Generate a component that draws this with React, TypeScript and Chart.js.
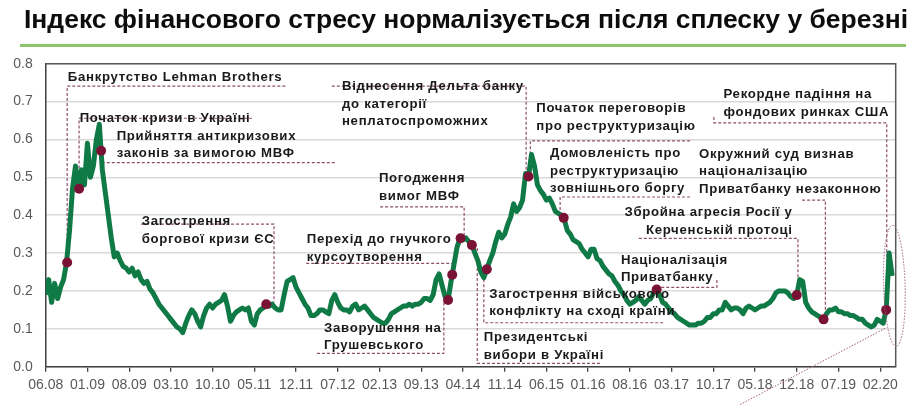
import React, { useEffect, useRef } from 'react';
import { Chart, registerables } from 'chart.js';

Chart.register(...registerables);

const TITLE = 'Індекс фінансового стресу нормалізується після сплеску у березні';

// x axis: months since 06.2008, tick every 7 months
const xTickLabels = ['06.08', '01.09', '08.09', '03.10', '10.10', '05.11', '12.11', '07.12', '02.13', '09.13', '04.14', '11.14', '06.15', '01.16', '08.16', '03.17', '10.17', '05.18', '12.18', '07.19', '02.20'];
const xTickMonths = [0, 7, 14, 21, 28, 35, 42, 49, 56, 63, 70, 77, 84, 91, 98, 105, 112, 119, 126, 133, 140];
const X_MAX = 142.6;

// financial stress index, half-month observations starting 06.2008
const SERIES_STEP = 0.5;
const stressIndex = [
  0.19, 0.23, 0.17, 0.22, 0.18, 0.21, 0.23, 0.275, 0.36, 0.47,
  0.53, 0.47, 0.52, 0.48, 0.59, 0.50, 0.53, 0.60, 0.64, 0.52,
  0.46, 0.40, 0.34, 0.29, 0.30, 0.28, 0.265, 0.26, 0.25, 0.26,
  0.24, 0.25, 0.23, 0.22, 0.225, 0.205, 0.195, 0.18, 0.165, 0.155,
  0.145, 0.135, 0.125, 0.115, 0.105, 0.10, 0.09, 0.115, 0.135, 0.15,
  0.14, 0.12, 0.105, 0.135, 0.155, 0.165, 0.155, 0.165, 0.17, 0.175,
  0.19, 0.16, 0.12, 0.135, 0.145, 0.15, 0.155, 0.15, 0.155, 0.12,
  0.11, 0.14, 0.15, 0.155, 0.165, 0.16, 0.165, 0.155, 0.15, 0.15,
  0.19, 0.225, 0.23, 0.235, 0.21, 0.195, 0.18, 0.165, 0.155, 0.135,
  0.135, 0.14, 0.15, 0.15, 0.145, 0.14, 0.175, 0.19, 0.17, 0.155,
  0.15, 0.15, 0.145, 0.16, 0.165, 0.15, 0.155, 0.16, 0.15, 0.14,
  0.13, 0.125, 0.12, 0.115, 0.115, 0.125, 0.14, 0.145, 0.15, 0.155,
  0.16, 0.16, 0.165, 0.16, 0.165, 0.165, 0.17, 0.18, 0.18, 0.175,
  0.19, 0.23, 0.245, 0.215, 0.185, 0.176, 0.225, 0.27, 0.315, 0.339,
  0.335, 0.34, 0.33, 0.321, 0.30, 0.28, 0.25, 0.235, 0.257, 0.28,
  0.30, 0.33, 0.355, 0.34, 0.35, 0.375, 0.395, 0.43, 0.41, 0.42,
  0.44, 0.51, 0.502, 0.56, 0.53, 0.48, 0.465, 0.455, 0.44, 0.445,
  0.43, 0.41, 0.405, 0.40, 0.389, 0.36, 0.35, 0.335, 0.33, 0.325,
  0.31, 0.30, 0.29, 0.31, 0.31, 0.285, 0.28, 0.265, 0.255, 0.245,
  0.24, 0.225, 0.215, 0.20, 0.19, 0.175, 0.165, 0.17, 0.175, 0.185,
  0.175, 0.165, 0.175, 0.18, 0.195, 0.204, 0.19, 0.17, 0.165, 0.155,
  0.145, 0.14, 0.13, 0.125, 0.12, 0.115, 0.11, 0.11, 0.11, 0.115,
  0.115, 0.12, 0.13, 0.13, 0.14, 0.14, 0.15, 0.15, 0.17, 0.16,
  0.15, 0.155, 0.155, 0.15, 0.14, 0.155, 0.16, 0.155, 0.15, 0.155,
  0.16, 0.16, 0.165, 0.17, 0.18, 0.195, 0.20, 0.20, 0.20, 0.195,
  0.185, 0.18, 0.189, 0.23, 0.225, 0.17, 0.155, 0.145, 0.14, 0.135,
  0.13, 0.125, 0.14, 0.15, 0.15, 0.155, 0.145, 0.145, 0.14, 0.14,
  0.135, 0.135, 0.13, 0.125, 0.125, 0.115, 0.11, 0.105, 0.11, 0.125,
  0.12, 0.115, 0.15, 0.30, 0.24,
];

// event markers
const eventMonths = [3.6, 5.6, 9.3, 37.0, 67.5, 68.2, 69.6, 71.5, 74.0, 81.0, 86.9, 102.5, 126.0, 130.5, 141.0];
const eventValues = [0.275, 0.47, 0.57, 0.165, 0.176, 0.243, 0.339, 0.321, 0.257, 0.502, 0.393, 0.204, 0.189, 0.125, 0.15];

type Ann = { lines: string[]; at: [number, number]; align?: 'left' | 'right'; path: [number, number][] };

const annotations: Ann[] = [
  { lines: ['Банкрутство Lehman Brothers'], at: [3.7, 0.765], path: [[40.2, 0.741], [3.6, 0.741], [3.6, 0.275]] },
  { lines: ['Початок кризи в Україні'], at: [5.7, 0.655], path: [[34.6, 0.656], [5.6, 0.656], [5.6, 0.47]] },
  { lines: ['Прийняття антикризових', 'законів за вимогою МВФ'], at: [11.9, 0.609], path: [[48.5, 0.539], [9.3, 0.539], [9.3, 0.57]] },
  { lines: ['Загострення', 'боргової кризи ЄС'], at: [16.1, 0.383], path: [[16.0, 0.3765], [38.3, 0.3765], [38.3, 0.17]] },
  { lines: ['Перехід до гнучкого', 'курсоутворення'], at: [43.8, 0.336], path: [[43.7, 0.273], [68.2, 0.273], [68.2, 0.243]] },
  { lines: ['Погодження', 'вимог МВФ'], at: [55.9, 0.497], path: [[56.1, 0.422], [70.2, 0.422], [70.2, 0.345]] },
  { lines: ['Заворушення на', 'Грушевського'], at: [46.7, 0.1013], path: [[45.5, 0.035], [66.8, 0.035], [66.8, 0.176]] },
  { lines: ['Віднесення Дельта банку', 'до категорії', 'неплатоспроможних'], at: [49.7, 0.739], path: [[48.0, 0.741], [80.6, 0.741], [80.6, 0.515]] },
  { lines: ['Початок переговорів', 'про реструктуризацію'], at: [82.3, 0.682], path: [[108.1, 0.596], [81.3, 0.596], [81.3, 0.515]] },
  { lines: ['Домовленість про', 'реструктуризацію', 'зовнішнього боргу'], at: [84.6, 0.563], path: [[108.1, 0.448], [86.3, 0.448], [86.3, 0.398]] },
  { lines: ['Загострення військового', 'конфлікту на сході країни'], at: [74.4, 0.191], path: [[103.6, 0.116], [73.5, 0.116], [73.5, 0.25]] },
  { lines: ['Президентські', 'вибори в Україні'], at: [73.5, 0.0765], path: [[93.0, 0.009], [72.4, 0.009], [72.4, 0.316]] },
  { lines: ['Націоналізація', 'Приватбанку'], at: [96.5, 0.2815], path: [[112.6, 0.229], [112.6, 0.2095], [102.5, 0.2095]] },
  { lines: ['Збройна агресія Росії у', 'Керченській протоці'], at: [125.3, 0.4074], align: 'right', path: [[99.5, 0.339], [126.2, 0.339], [126.2, 0.197]] },
  { lines: ['Окружний суд визнав', 'націоналізацію', 'Приватбанку незаконною'], at: [109.6, 0.5612], path: [[126.9, 0.44], [130.8, 0.44], [130.8, 0.134]] },
  { lines: ['Рекордне падіння на', 'фондових ринках США'], at: [113.7, 0.7187], path: [[112.1, 0.659], [112.1, 0.644], [141.1, 0.644], [141.1, 0.158]] },
];

// highlight of the March 2020 spike and its pointer
const spikeCenter: [number, number] = [142.37, 0.2135];
const spikeRadius: [number, number] = [1.81, 0.16];
const pointerPath: [number, number][] = [[140.8, 0.101], [116.0, -0.104]];

const GREEN = '#0f7a45';
const MAROON = '#7a1236';
const LEADER = '#8f4f6c';
const FONT = '"Liberation Sans", Arial, sans-serif';

const overlayPlugin = {
  id: 'overlay',
  beforeDraw(chart: any) {
    const ctx = chart.ctx as CanvasRenderingContext2D;
    ctx.save();
    ctx.fillStyle = '#ffffff';
    ctx.fillRect(0, 0, chart.width, chart.height);
    // title
    ctx.font = `bold 26px ${FONT}`;
    const w = ctx.measureText(TITLE).width;
    ctx.translate(24, 27.5);
    ctx.scale(884 / w, 1);
    ctx.fillStyle = '#0d0d0d';
    ctx.textBaseline = 'alphabetic';
    ctx.textAlign = 'left';
    ctx.fillText(TITLE, 0, 0);
    ctx.restore();
    // green rule
    ctx.save();
    ctx.strokeStyle = '#8cc46b';
    ctx.lineWidth = 3;
    ctx.beginPath();
    ctx.moveTo(20, 45.5);
    ctx.lineTo(906, 45.5);
    ctx.stroke();
    ctx.restore();
  },
  beforeDatasetsDraw(chart: any) {
    const ctx = chart.ctx as CanvasRenderingContext2D;
    const xs = chart.scales.x;
    const ys = chart.scales.y;
    ctx.save();
    ctx.strokeStyle = LEADER;
    ctx.lineWidth = 1.2;
    ctx.setLineDash([3, 2]);
    annotations.forEach((a) => {
      ctx.beginPath();
      a.path.forEach(([m, v], i) => {
        const px = xs.getPixelForValue(m);
        const py = ys.getPixelForValue(v);
        if (i === 0) ctx.moveTo(px, py);
        else ctx.lineTo(px, py);
      });
      ctx.stroke();
    });
    ctx.restore();
  },
  afterDatasetsDraw(chart: any) {
    const ctx = chart.ctx as CanvasRenderingContext2D;
    const xs = chart.scales.x;
    const ys = chart.scales.y;
    const area = chart.chartArea;
    // annotation text
    ctx.save();
    ctx.font = `bold 13.2px ${FONT}`;
    (ctx as any).letterSpacing = '0.7px';
    ctx.fillStyle = '#1a1a1a';
    ctx.textBaseline = 'middle';
    annotations.forEach((a) => {
      const px = xs.getPixelForValue(a.at[0]);
      const py = ys.getPixelForValue(a.at[1]);
      ctx.textAlign = a.align === 'right' ? 'right' : 'left';
      a.lines.forEach((t, i) => ctx.fillText(t, px, py + i * 17.5));
    });
    ctx.restore();
    // plot frame (top and right)
    ctx.save();
    ctx.strokeStyle = '#595959';
    ctx.lineWidth = 1.5;
    ctx.beginPath();
    ctx.moveTo(area.left, area.top);
    ctx.lineTo(area.right, area.top);
    ctx.lineTo(area.right, area.bottom);
    ctx.stroke();
    ctx.restore();
    // spike ellipse
    ctx.save();
    ctx.strokeStyle = '#a0607f';
    ctx.lineWidth = 1;
    ctx.setLineDash([1.5, 1.5]);
    const cx = xs.getPixelForValue(spikeCenter[0]);
    const cy = ys.getPixelForValue(spikeCenter[1]);
    const rx = Math.abs(xs.getPixelForValue(spikeCenter[0] + spikeRadius[0]) - cx);
    const ry = Math.abs(ys.getPixelForValue(spikeCenter[1] + spikeRadius[1]) - cy);
    ctx.beginPath();
    ctx.ellipse(cx, cy, rx, ry, -0.03, 0, Math.PI * 2);
    ctx.stroke();
    ctx.beginPath();
    pointerPath.forEach(([m, v], i) => {
      const px = xs.getPixelForValue(m);
      const py = ys.getPixelForValue(v);
      if (i === 0) ctx.moveTo(px, py);
      else ctx.lineTo(px, py);
    });
    ctx.stroke();
    ctx.restore();
  },
};

export default function App() {
  const ref = useRef<HTMLCanvasElement | null>(null);

  useEffect(() => {
    if (!ref.current) return;
    const lineData = stressIndex.map((v, i) => ({ x: i * SERIES_STEP, y: v }));
    const markerData = eventMonths.map((m, i) => ({ x: m, y: eventValues[i] }));
    const chart = new Chart(ref.current, {
      type: 'line',
      data: {
        datasets: [
          {
            type: 'scatter' as any,
            data: markerData,
            pointRadius: 5,
            pointHoverRadius: 5,
            backgroundColor: MAROON,
            borderWidth: 0,
            showLine: false,
            order: 0,
          } as any,
          {
            data: lineData,
            borderColor: GREEN,
            borderWidth: 5,
            pointRadius: 0,
            tension: 0,
            fill: false,
            borderJoinStyle: 'round',
            order: 1,
          } as any,
        ],
      },
      options: {
        animation: false,
        responsive: false,
        maintainAspectRatio: false,
        parsing: false as any,
        layout: { padding: { left: 0, top: 63.7, right: 22.3, bottom: 0 } },
        plugins: { legend: { display: false }, tooltip: { enabled: false }, title: { display: false } },
        scales: {
          x: {
            type: 'linear',
            min: 0,
            max: X_MAX,
            afterBuildTicks: (scale: any) => {
              scale.ticks = xTickMonths.map((v) => ({ value: v }));
            },
            afterFit: (scale: any) => {
              scale.height = 38.3;
            },
            ticks: {
              autoSkip: false,
              maxRotation: 0,
              minRotation: 0,
              padding: 5,
              color: '#595959',
              font: { family: FONT, size: 14 },
              callback: (_v: any, idx: number) => xTickLabels[idx],
            },
            grid: { drawOnChartArea: false, drawTicks: true, tickLength: 5, color: '#404040', lineWidth: 1.3 },
            border: { display: true, color: '#404040', width: 1.5 },
          },
          y: {
            min: 0,
            max: 0.8,
            afterFit: (scale: any) => {
              scale.width = 45.7;
            },
            ticks: {
              stepSize: 0.1,
              padding: 13,
              color: '#595959',
              font: { family: FONT, size: 14 },
              callback: (v: any) => Number(v).toFixed(1),
            },
            grid: { drawTicks: false, color: '#d9d9d9', lineWidth: 1.5 },
            border: { display: true, color: '#404040', width: 1.5 },
          },
        },
      },
      plugins: [overlayPlugin],
    });
    return () => chart.destroy();
  }, []);

  return (
    <div style={{ position: 'absolute', left: 0, top: 0, width: 918, height: 405, background: '#fff' }}>
      <canvas ref={ref} width={918} height={405} style={{ width: 918, height: 405, display: 'block' }} />
    </div>
  );
}
